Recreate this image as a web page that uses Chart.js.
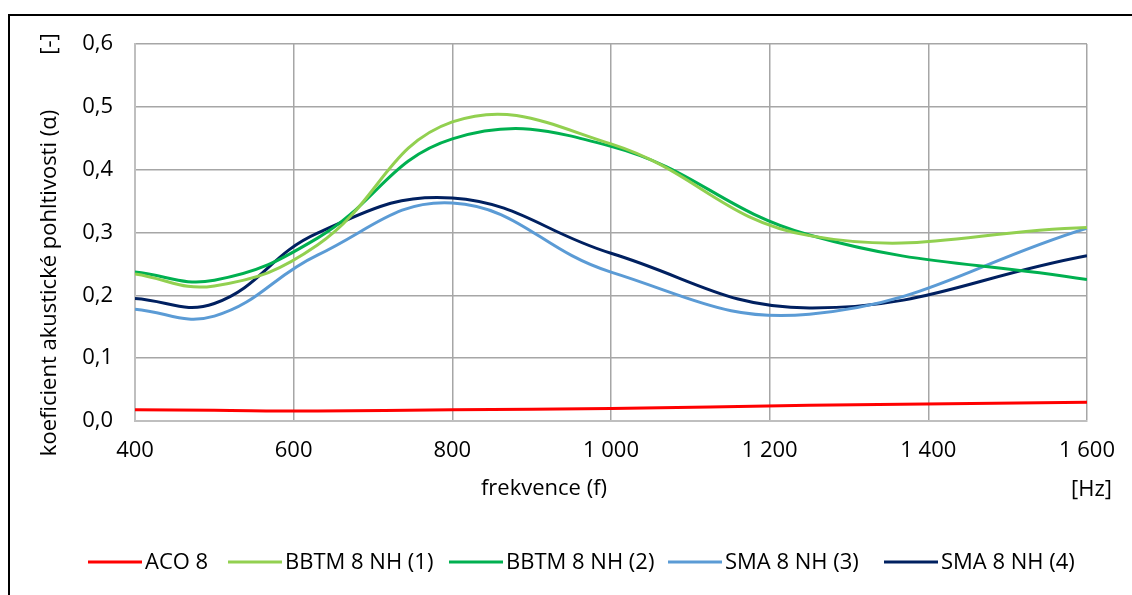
<!DOCTYPE html>
<html>
<head>
<meta charset="utf-8">
<script src="https://cdn.jsdelivr.net/npm/chart.js@4.4.1/dist/chart.umd.min.js"></script>
<style>
html,body{margin:0;padding:0;background:#fff;}
#wrap{width:1132px;height:595px;position:relative;}
</style>
</head>
<body>
<div id="wrap"><canvas id="c" width="1132" height="595"></canvas></div>
<script>
const frequencies = [400, 500, 630, 800, 1000, 1250, 1600];
const seriesNames = ["ACO 8", "BBTM 8 NH (1)", "BBTM 8 NH (2)", "SMA 8 NH (3)", "SMA 8 NH (4)"];
const aco8 = [0.018, 0.017, 0.016, 0.018, 0.020, 0.025, 0.030];
const bbtm1 = [0.234, 0.215, 0.280, 0.476, 0.441, 0.295, 0.308];
const bbtm2 = [0.237, 0.224, 0.291, 0.449, 0.437, 0.296, 0.225];
const sma3 = [0.178, 0.167, 0.264, 0.347, 0.237, 0.170, 0.307];
const sma4 = [0.195, 0.187, 0.299, 0.355, 0.267, 0.180, 0.263];
const xTicks = [400, 600, 800, 1000, 1200, 1400, 1600];
const yTicks = [0, 0.1, 0.2, 0.3, 0.4, 0.5, 0.6];
const yTitle = "koeficient akustické pohltivosti (α)";
const yUnit = "[-]";
const xTitle = "frekvence (f)";
const xUnit = "[Hz]";

const colors = ["#ff0000", "#92d050", "#00b050", "#5b9bd5", "#002060"];
const allSeries = [aco8, bbtm1, bbtm2, sma3, sma4];
const FONT = "'Open Sans'";
const FS = 22;

const datasets = allSeries.map((vals, i) => ({
  label: seriesNames[i],
  data: frequencies.map((f, j) => ({x: f, y: vals[j]})),
  borderColor: colors[i],
  backgroundColor: colors[i],
  borderWidth: 3,
  pointRadius: 0,
  tension: 0.42,
  fill: false
}));

const decor = {
  id: 'decor',
  beforeDraw(chart) {
    const ctx = chart.ctx;
    ctx.save();
    ctx.fillStyle = '#fff';
    ctx.fillRect(0, 0, chart.width, chart.height);
    ctx.strokeStyle = '#000';
    ctx.lineWidth = 2;
    ctx.strokeRect(9, 15, 1130, 620);
    ctx.restore();
  },
  afterDraw(chart) {
    const ctx = chart.ctx;
    ctx.save();
    ctx.fillStyle = '#000';
    ctx.font = FS + 'px ' + FONT;
    ctx.textBaseline = 'middle';
    // y title
    ctx.save();
    ctx.translate(50, 283);
    ctx.rotate(-Math.PI / 2);
    ctx.textAlign = 'center';
    ctx.fillText(yTitle, 0, 0);
    ctx.restore();
    ctx.save();
    ctx.translate(50, 44);
    ctx.rotate(-Math.PI / 2);
    ctx.textAlign = 'center';
    ctx.fillText(yUnit, 0, 0);
    ctx.restore();
    // x title
    ctx.textAlign = 'center';
    ctx.fillText(xTitle, 544, 489);
    ctx.textAlign = 'right';
    ctx.fillText(xUnit, 1112, 490);
    // legend
    const starts = [88, 228, 449, 668, 884];
    const ly = 562;
    chart.data.datasets.forEach((ds, i) => {
      const x0 = starts[i];
      ctx.strokeStyle = ds.borderColor;
      ctx.lineWidth = 3;
      ctx.beginPath();
      ctx.moveTo(x0, ly);
      ctx.lineTo(x0 + 54, ly);
      ctx.stroke();
      ctx.textAlign = 'left';
      ctx.fillStyle = '#000';
      ctx.fillText(ds.label, x0 + 57, ly + 1);
    });
    ctx.restore();
  }
};

new Chart(document.getElementById('c'), {
  type: 'line',
  data: {datasets},
  options: {
    responsive: false,
    animation: false,
    devicePixelRatio: 1,
    layout: {padding: {left: 0, top: 44, right: 45, bottom: 0}},
    plugins: {legend: {display: false}, tooltip: {enabled: false}},
    scales: {
      x: {
        type: 'linear',
        min: 400, max: 1600,
        afterFit(s) { s.height = 595 - 421; },
        afterBuildTicks(s) { s.ticks = xTicks.map(v => ({value: v})); },
        grid: {color: '#a6a6a6', lineWidth: 1.5, drawTicks: false},
        border: {color: '#bfbfbf', width: 2},
        ticks: {
          color: '#000', font: {family: FONT, size: FS}, padding: 17, maxRotation: 0,
          callback: v => String(v).replace(/\B(?=(\d{3})+(?!\d))/g, ' ')
        }
      },
      y: {
        min: 0, max: 0.6,
        afterFit(s) { s.width = 135; },
        afterBuildTicks(s) { s.ticks = yTicks.map(v => ({value: v})); },
        grid: {color: '#a6a6a6', lineWidth: 1.5, drawTicks: false},
        border: {color: '#bfbfbf', width: 2},
        ticks: {
          color: '#000', font: {family: FONT, size: FS}, padding: 22,
          callback: v => v.toFixed(1).replace('.', ',')
        }
      }
    }
  },
  plugins: [decor]
});
</script>
</body>
</html>
